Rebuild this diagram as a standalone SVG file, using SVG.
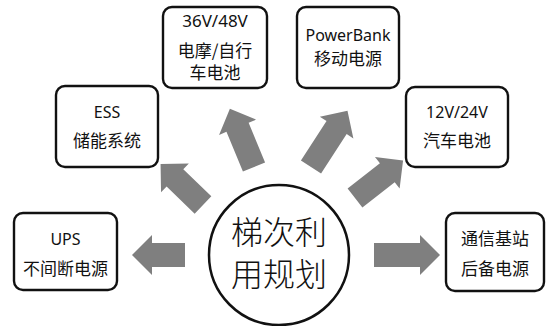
<svg xmlns="http://www.w3.org/2000/svg" width="547" height="326" viewBox="0 0 547 326">
<style>
.box{fill:#fff;stroke:#111;stroke-width:2.4}
.t{font-family:"Noto Sans","Noto Sans CJK SC",sans-serif;font-size:16px;fill:#111;text-anchor:middle}
.c{font-family:"Noto Sans CJK SC",sans-serif;font-size:17px;fill:#111;text-anchor:middle}
.big{font-family:"Noto Sans CJK SC",sans-serif;font-size:32px;font-weight:300;fill:#111;text-anchor:middle}
.arr{fill:#7f7f7f}
</style>
<rect width="547" height="326" fill="#fff"/>
<g id="connectors">
<path class="arr" transform="translate(185,255) rotate(180)" d="M0,-12H33V-20L53,0L33,20V12H0Z"/>
<path class="arr" transform="translate(374,255)" d="M0,-12H46V-20L66,0L46,20V12H0Z"/>
<path class="arr" transform="translate(203,205) rotate(-136)" d="M0,-12H39V-20L59,0L39,20V12H0Z"/>
<path class="arr" transform="translate(254,167) rotate(-112.5)" d="M0,-12H43V-20L63,0L43,20V12H0Z"/>
<path class="arr" transform="translate(311,167) rotate(-57)" d="M0,-12H47V-20L67,0L47,20V12H0Z"/>
<path class="arr" transform="translate(355,198) rotate(-38)" d="M0,-12H41V-20L61,0L41,20V12H0Z"/>
</g>
<g id="center">
<circle cx="279" cy="255" r="70" fill="#fff" stroke="#111" stroke-width="2.5"/>
<text class="big" x="279" y="244">梯次利</text>
<text class="big" x="279" y="286">用规划</text>
</g>
<g id="ups">
<rect class="box" x="14" y="213" width="103" height="77" rx="9"/>
<text class="t" x="65.5" y="245">UPS</text>
<text class="c" x="65.5" y="275">不间断电源</text>
</g>
<g id="ess">
<rect class="box" x="56" y="86" width="102" height="81" rx="9"/>
<text class="t" x="107" y="118">ESS</text>
<text class="c" x="107" y="147">储能系统</text>
</g>
<g id="ebike">
<rect class="box" x="163" y="7" width="104" height="81" rx="9"/>
<text class="t" x="215" y="27" style="font-size:17px">36V/48V</text>
<text class="c" x="215" y="57">电摩/自行</text>
<text class="c" x="215" y="79">车电池</text>
</g>
<g id="powerbank">
<rect class="box" x="297" y="7" width="102" height="81" rx="9"/>
<text class="t" x="348" y="41">PowerBank</text>
<text class="c" x="348" y="65">移动电源</text>
</g>
<g id="car">
<rect class="box" x="406" y="87" width="102" height="80" rx="9"/>
<text class="t" x="457" y="118">12V/24V</text>
<text class="c" x="457" y="147">汽车电池</text>
</g>
<g id="telecom">
<rect class="box" x="446" y="213" width="98" height="78" rx="9"/>
<text class="c" x="495" y="245">通信基站</text>
<text class="c" x="495" y="275">后备电源</text>
</g>
</svg>
